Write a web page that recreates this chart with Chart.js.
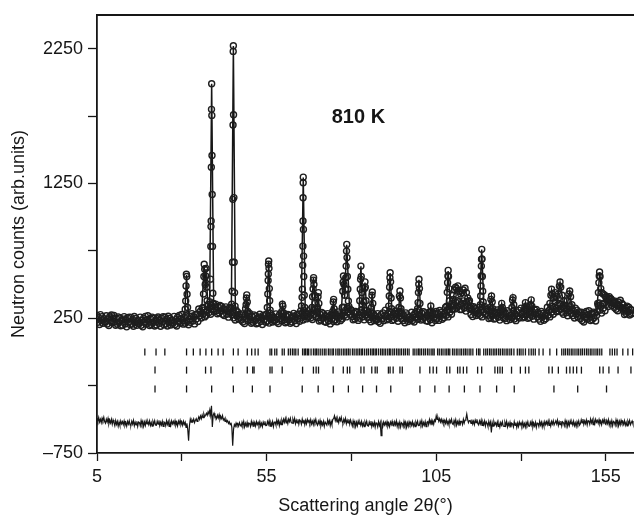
<!DOCTYPE html>
<html>
<head>
<meta charset="utf-8">
<script src="https://cdn.jsdelivr.net/npm/chart.js@4.4.1/dist/chart.umd.min.js"></script>
<style>
  html, body { margin: 0; padding: 0; overflow: hidden; background: #fff; }
  #wrap { width: 634px; height: 517px; }
  canvas { display: block; }
</style>
</head>
<body>
<div id="wrap"><canvas id="g_rietveld"></canvas></div>
<script>
// observed background, one value every 0.25 deg from 5 to 163
const scanStart = 5;
const scanStep = 0.25;
const obsBackground = [
  270, 220, 254, 204, 277, 232, 262, 212, 247, 224,
  221, 268, 208, 244, 196, 261, 231, 274, 216, 250,
  270, 222, 198, 248, 205, 260, 218, 252, 194, 236,
  198, 243, 262, 208, 238, 186, 254, 222, 258, 204,
  256, 206, 240, 190, 263, 218, 248, 198, 233, 210,
  211, 258, 198, 234, 186, 251, 221, 264, 206, 240,
  268, 220, 196, 246, 203, 258, 216, 250, 192, 234,
  200, 246, 259, 211, 236, 190, 251, 225, 262, 201,
  258, 208, 242, 192, 265, 220, 250, 200, 235, 212,
  217, 264, 204, 240, 192, 257, 227, 270, 212, 246,
  278, 230, 206, 256, 213, 268, 226, 260, 202, 244,
  220, 265, 284, 230, 260, 208, 276, 244, 280, 226,
  318, 268, 302, 252, 325, 280, 310, 260, 295, 272,
  305, 352, 292, 328, 280, 345, 315, 358, 300, 334,
  355, 307, 283, 333, 290, 345, 303, 337, 279, 321,
  270, 315, 334, 280, 310, 258, 326, 294, 330, 276,
  303, 253, 287, 237, 310, 265, 295, 245, 280, 257,
  235, 282, 222, 258, 210, 275, 245, 288, 230, 264,
  285, 237, 213, 263, 220, 275, 233, 267, 209, 251,
  215, 260, 279, 225, 255, 203, 271, 239, 275, 221,
  280, 230, 264, 214, 287, 242, 272, 222, 257, 234,
  235, 282, 222, 258, 210, 275, 245, 288, 230, 264,
  288, 240, 216, 266, 223, 278, 236, 270, 212, 254,
  222, 267, 286, 232, 262, 210, 278, 246, 282, 228,
  303, 253, 287, 237, 310, 265, 295, 245, 280, 257,
  265, 312, 252, 288, 240, 305, 275, 318, 260, 294,
  302, 254, 230, 280, 237, 292, 250, 284, 226, 268,
  220, 265, 284, 230, 260, 208, 276, 244, 280, 226,
  290, 240, 274, 224, 297, 252, 282, 232, 267, 244,
  285, 332, 272, 308, 260, 325, 295, 338, 280, 314,
  310, 262, 238, 288, 245, 300, 258, 292, 234, 276,
  250, 295, 314, 260, 290, 238, 306, 274, 310, 256,
  290, 240, 274, 224, 297, 252, 282, 232, 267, 244,
  237, 284, 224, 260, 212, 277, 247, 290, 232, 266,
  310, 262, 238, 288, 245, 300, 258, 292, 234, 276,
  240, 285, 304, 250, 280, 228, 296, 264, 300, 246,
  283, 233, 267, 217, 290, 245, 275, 225, 260, 237,
  247, 294, 234, 270, 222, 287, 257, 300, 242, 276,
  308, 260, 236, 286, 243, 298, 256, 290, 232, 274,
  228, 273, 292, 238, 268, 216, 284, 252, 288, 234,
  300, 250, 284, 234, 307, 262, 292, 242, 277, 254,
  285, 332, 272, 308, 260, 325, 295, 338, 280, 314,
  390, 342, 318, 368, 325, 380, 338, 372, 314, 356,
  315, 360, 379, 325, 355, 303, 371, 339, 375, 321,
  328, 278, 312, 262, 335, 290, 320, 270, 305, 282,
  285, 332, 272, 308, 260, 325, 295, 338, 280, 314,
  320, 272, 248, 298, 255, 310, 268, 302, 244, 286,
  248, 293, 312, 258, 288, 236, 304, 272, 308, 254,
  298, 248, 282, 232, 305, 260, 290, 240, 275, 252,
  257, 304, 244, 280, 232, 297, 267, 310, 252, 286,
  325, 277, 253, 303, 260, 315, 273, 307, 249, 291,
  255, 300, 319, 265, 295, 243, 311, 279, 315, 261,
  293, 243, 277, 227, 300, 255, 285, 235, 270, 247,
  285, 332, 272, 308, 260, 325, 295, 338, 280, 314,
  370, 322, 298, 348, 305, 360, 318, 352, 294, 336,
  280, 325, 344, 290, 320, 268, 336, 304, 340, 286,
  318, 268, 302, 252, 325, 280, 310, 260, 295, 272,
  247, 294, 234, 270, 222, 287, 257, 300, 242, 276,
  305, 257, 233, 283, 240, 295, 253, 287, 229, 271,
  300, 345, 364, 310, 340, 288, 356, 324, 360, 306,
  403, 353, 387, 337, 410, 365, 395, 345, 380, 357,
  330, 377, 317, 353, 305, 370, 340, 383, 325, 359,
  350, 302, 278, 328, 285, 340, 298, 332, 274, 316,
  282, 310, 290
];
// observed points on the Bragg peaks [2theta, counts]
const obsPeaks = [
  [31.0,317],[31.15,378],[31.25,490],[31.35,576],[31.45,560],[31.55,428],[31.7,330],
  [36.2,330],[36.4,430],[36.5,560],[36.6,650],[36.75,613],[36.9,500],[37.05,563],[37.15,620],[37.3,480],[37.45,380],[37.6,340],
  [38.3,371],[38.45,540],[38.55,783],[38.6,930],[38.65,971],[38.7,1370],[38.75,1800],[38.8,1990],[38.85,1755],[38.9,1457],[38.95,1168],[39.05,783],[39.15,435],[39.3,360],
  [44.7,354],[44.85,450],[44.95,665],[45.05,1132],[45.1,1684],[45.15,2230],[45.2,2272],[45.25,1760],[45.35,1145],[45.45,665],[45.55,440],[45.7,340],
  [48.8,320],[48.95,350],[49.05,400],[49.15,423],[49.3,370],[49.45,300],
  [55.2,330],[55.35,430],[55.45,530],[55.5,578],[55.55,650],[55.62,675],[55.7,620],[55.8,470],[55.9,380],[56.05,310],
  [59.5,300],[59.65,354],[59.8,340],[60.0,290],
  [65.3,341],[65.45,405],[65.55,465],[65.65,643],[65.7,785],[65.72,971],[65.75,1144],[65.78,1255],[65.8,1297],[65.85,909],[65.9,711],[65.95,560],[66.1,420],[66.25,330],
  [68.4,330],[68.55,410],[68.7,467],[68.8,533],[68.85,551],[68.95,500],[69.1,420],[69.3,360],
  [70.0,330],[70.15,410],[70.25,440],[70.4,360],
  [74.5,300],[74.65,370],[74.75,390],[74.9,320],
  [77.3,330],[77.45,450],[77.55,517],[77.65,563],[77.8,500],[78.0,420],[78.2,465],[78.35,551],[78.45,637],[78.55,748],[78.62,798],[78.7,700],[78.8,560],[78.95,465],[79.1,378],[79.3,320],
  [82.45,380],[82.6,465],[82.7,539],[82.8,637],[82.9,560],[83.05,440],[83.2,350],
  [83.7,370],[83.85,470],[84.0,520],[84.1,480],[84.3,380],
  [85.9,330],[86.05,420],[86.15,445],[86.3,360],
  [91.0,340],[91.15,415],[91.25,480],[91.35,551],[91.42,588],[91.55,520],[91.7,400],[91.85,320],
  [94.0,330],[94.15,415],[94.3,452],[94.45,400],[94.6,320],
  [99.5,320],[99.65,366],[99.75,440],[99.85,502],[99.92,539],[100.05,470],[100.2,360],
  [103.25,300],[103.4,341],[103.55,300],
  [108.1,340],[108.25,442],[108.35,514],[108.45,563],[108.52,605],[108.62,560],[108.75,470],[108.9,380],
  [109.6,360],[110.0,420],[110.4,460],[110.7,480],[111.0,470],[111.4,490],[111.8,450],[112.2,430],[112.6,440],[113.0,460],[113.5,472],[113.9,440],[114.3,400],[114.8,380],[115.3,340],
  [118.0,350],[118.1,415],[118.2,489],[118.25,563],[118.3,637],[118.35,687],[118.42,761],[118.5,690],[118.6,560],[118.7,450],[118.85,370],
  [120.9,330],[121.1,390],[121.3,415],[121.5,370],[121.7,320],
  [124.1,320],[124.3,360],[124.5,330],
  [127.3,330],[127.5,385],[127.65,403],[127.85,350],
  [131.1,330],[131.3,366],[131.5,340],[132.8,350],[133.0,386],[133.2,340],
  [138.5,360],[138.8,420],[139.0,465],[139.2,430],[139.6,400],[140.0,440],[140.4,410],[141.0,430],[141.3,490],[141.5,519],[141.7,480],[142.1,420],[142.6,380],[143.6,380],[144.1,430],[144.35,452],[144.6,410],[145.0,350],
  [152.6,360],[152.8,440],[152.95,514],[153.05,563],[153.15,593],[153.3,560],[153.5,470],[153.8,440],[154.2,430],[154.7,420],[155.2,410],[155.8,400],[156.4,390],[157.0,370],[157.6,360],[158.2,350],[158.8,340],[159.5,330],[160.2,320],[161.0,310]
];
// calculated profile [2theta, counts]
const calcProfile = [
  [5,240],[10,232],[15,230],[20,230],[25,232],[30,238],
  [30.8,240],[31.4,570],[32.0,245],
  [35.0,262],[35.8,280],[36.6,645],[36.9,460],[37.15,615],[37.7,330],
  [38.2,330],[38.8,1990],[39.4,325],
  [41.0,305],[43.0,300],
  [44.6,300],[45.2,2270],[45.8,285],
  [47.0,258],[48.6,255],[49.1,420],[49.6,252],
  [52.0,245],[55.0,250],[55.6,670],[56.2,255],
  [59.2,252],[59.7,350],[60.3,250],
  [63.0,250],[65.2,275],[65.8,1295],[66.4,285],
  [68.2,280],[68.8,550],[69.5,290],[69.8,285],[70.2,430],[70.7,262],
  [72.5,252],[74.2,250],[74.7,385],[75.2,255],
  [77.0,285],[77.6,560],[78.0,400],[78.6,795],[79.5,290],
  [81.0,270],[82.2,275],[82.8,635],[83.3,300],[84.0,515],[84.6,275],
  [85.6,258],[86.1,440],[86.7,255],
  [88.5,250],[90.8,265],[91.4,585],[92.0,270],
  [93.8,258],[94.3,448],[94.9,252],
  [97.0,255],[99.3,262],[99.9,535],[100.5,262],
  [102.0,260],[103.0,258],[103.4,340],[103.8,262],
  [106.0,275],[107.9,295],[108.5,600],[109.2,320],
  [110.7,470],[111.4,480],[112.2,420],[113.5,465],[114.5,380],[115.5,300],
  [117.7,295],[118.4,760],[119.1,300],
  [120.6,280],[121.3,410],[122.0,275],
  [123.8,268],[124.3,355],[124.9,268],
  [127.0,270],[127.6,400],[128.3,265],
  [130.8,275],[131.3,365],[132.0,285],[133.0,385],[133.6,275],
  [136.0,265],[138.2,300],[139.0,460],[139.6,390],[140.0,430],[140.6,380],[141.5,515],[142.5,360],[143.5,330],[144.35,450],[145.2,300],
  [148.0,265],[151.0,270],[152.3,300],[153.2,590],[153.8,430],[155.0,405],[157.0,365],[159.0,330],[161.0,300],[163.3,290]
];
// difference curve (shifted), same 0.25 deg grid as the background
const diffCounts = [
  -493, -515, -487, -520, -499, -525, -491, -510, -485, -517,
  -529, -499, -521, -493, -533, -507, -527, -500, -537, -505,
  -525, -548, -510, -538, -516, -552, -520, -545, -512, -534,
  -518, -540, -512, -545, -524, -550, -516, -535, -510, -542,
  -544, -514, -536, -508, -548, -522, -542, -515, -552, -520,
  -525, -548, -510, -538, -516, -552, -520, -545, -512, -534,
  -518, -540, -512, -545, -524, -550, -516, -535, -510, -542,
  -544, -514, -536, -508, -548, -522, -542, -515, -552, -520,
  -525, -548, -510, -538, -516, -552, -520, -545, -512, -534,
  -516, -538, -510, -543, -522, -548, -514, -533, -508, -540,
  -520, -545, -515, -538, -522, -560, -530, -575, -659, -548,
  -500, -522, -505, -518, -498, -525, -508, -495, -515, -502,
  -482, -500, -475, -495, -468, -488, -460, -480, -470, -455,
  -470, -445, -462, -430, -470, -400, -557, -470, -455, -480,
  -478, -495, -470, -490, -465, -500, -480, -495, -472, -505,
  -495, -515, -500, -520, -510, -530, -518, -540, -525, -560,
  -696, -575, -540, -552, -528, -545, -532, -550, -525, -543,
  -552, -522, -544, -516, -556, -530, -550, -523, -560, -528,
  -530, -553, -515, -543, -521, -557, -525, -550, -517, -539,
  -523, -545, -517, -550, -529, -555, -521, -540, -515, -547,
  -546, -516, -538, -510, -550, -524, -544, -517, -554, -522,
  -520, -543, -505, -533, -511, -547, -515, -540, -507, -529,
  -500, -522, -494, -527, -506, -532, -498, -517, -492, -524,
  -529, -499, -521, -493, -533, -507, -527, -500, -537, -505,
  -513, -536, -498, -526, -504, -540, -508, -533, -500, -522,
  -508, -530, -502, -535, -514, -540, -506, -525, -500, -532,
  -544, -514, -536, -508, -548, -522, -542, -515, -552, -520,
  -520, -543, -505, -533, -511, -547, -515, -540, -500, -495,
  -474, -510, -488, -520, -499, -525, -491, -510, -485, -517,
  -529, -499, -521, -493, -533, -507, -527, -500, -537, -505,
  -527, -550, -512, -540, -518, -554, -522, -547, -514, -536,
  -522, -544, -516, -549, -528, -554, -520, -539, -514, -546,
  -550, -520, -542, -514, -554, -528, -548, -521, -558, -526,
  -533, -556, -518, -546, -524, -622, -528, -553, -520, -542,
  -523, -545, -517, -550, -529, -555, -521, -540, -515, -547,
  -549, -519, -541, -513, -553, -527, -547, -520, -557, -525,
  -531, -554, -516, -544, -522, -558, -526, -551, -518, -540,
  -523, -545, -517, -550, -529, -555, -521, -540, -515, -547,
  -546, -516, -538, -510, -550, -524, -544, -517, -554, -522,
  -517, -540, -502, -530, -508, -544, -512, -537, -504, -515,
  -474, -500, -488, -515, -495, -520, -500, -525, -505, -530,
  -508, -530, -502, -535, -514, -540, -506, -525, -500, -532,
  -539, -509, -531, -503, -543, -517, -537, -510, -547, -515,
  -515, -538, -500, -528, -506, -495, -461, -500, -525, -510,
  -508, -530, -502, -535, -514, -540, -506, -525, -500, -532,
  -542, -512, -534, -506, -546, -520, -540, -513, -550, -518,
  -530, -553, -515, -543, -521, -597, -525, -550, -517, -539,
  -526, -548, -520, -553, -532, -558, -524, -543, -518, -550,
  -552, -522, -544, -516, -556, -530, -550, -523, -560, -528,
  -533, -556, -518, -546, -524, -560, -528, -553, -520, -542,
  -526, -548, -520, -553, -532, -558, -524, -543, -518, -550,
  -552, -522, -544, -516, -556, -530, -550, -523, -560, -528,
  -530, -553, -515, -543, -521, -557, -525, -550, -517, -539,
  -518, -540, -512, -545, -524, -550, -516, -535, -510, -542,
  -542, -512, -534, -506, -546, -520, -540, -513, -550, -518,
  -525, -548, -510, -538, -516, -552, -520, -545, -512, -534,
  -520, -542, -514, -547, -526, -552, -518, -537, -512, -544,
  -534, -504, -526, -498, -538, -512, -532, -505, -542, -510,
  -513, -536, -498, -526, -504, -540, -508, -533, -500, -522,
  -508, -530, -502, -535, -514, -540, -506, -525, -500, -532,
  -539, -509, -531, -503, -543, -517, -537, -510, -547, -515,
  -520, -543, -505, -533, -511, -547, -515, -540, -507, -529,
  -516, -538, -510, -543, -522, -548, -514, -533, -508, -540,
  -525, -512, -535
];
// Bragg reflection positions of the three phases (2theta)
const braggPhase1 = [19.1, 22.4, 25.0, 31.4, 33.4, 35.4, 37.1, 38.8, 40.7, 42.2, 45.2, 46.6, 49.3, 50.6, 51.6, 52.5,
  56.0, 56.5, 57.4, 58.0, 59.6, 60.2, 61.4, 62.0, 62.6, 63.1, 63.6, 64.3, 65.6, 66.1, 66.5, 67.0, 67.4, 68.1, 68.8,
  69.3, 69.7, 70.2, 70.8, 71.4, 72.0, 72.5, 73.2, 73.7, 74.3, 74.7, 75.4, 76.0, 76.4, 77.0, 77.6, 78.1, 78.6, 79.1,
  79.6, 80.3, 80.8, 81.4, 81.9, 82.4, 82.9, 83.3, 83.9, 84.5, 85.0, 85.6, 86.1, 86.5, 87.0, 87.4, 88.0, 88.6, 89.1,
  89.6, 90.1, 90.7, 91.2, 91.6, 92.2, 92.7, 93.3, 93.8, 94.3, 94.8, 95.4, 95.9, 96.5, 97.0, 98.2, 98.7, 99.3, 99.8,
  100.2, 100.7, 101.3, 101.8, 102.4, 102.9, 103.5, 104.0, 104.4, 105.4, 105.9, 106.5, 107.0, 107.6, 108.1, 108.6,
  109.0, 109.8, 110.3, 110.9, 111.4, 112.0, 112.5, 113.1, 113.6, 114.1, 114.7, 115.2, 115.8, 116.9, 117.5, 117.9,
  119.0, 119.6, 120.1, 120.7, 121.2, 121.8, 122.3, 122.8, 123.4, 123.9, 124.5, 125.0, 125.6, 126.1, 126.7, 127.2,
  127.9, 128.9, 129.5, 130.0, 130.6, 131.3, 132.3, 133.0, 133.6, 134.2, 135.3, 136.5, 138.5, 140.5, 142.0, 142.6,
  143.1, 143.7, 144.2, 144.8, 145.3, 145.9, 146.5, 147.0, 147.6, 148.1, 148.7, 149.3, 149.8, 150.4, 150.9, 151.5,
  152.1, 152.6, 153.2, 153.8, 156.2, 156.9, 157.6, 158.3, 160.0, 161.5, 162.9];
const braggPhase2 = [22.1, 31.4, 37.0, 38.6, 45.0, 49.3, 50.9, 51.3, 56.0, 56.6, 59.6, 65.6, 68.8, 69.6, 70.3, 74.6,
  77.6, 78.8, 79.5, 82.8, 83.7, 86.0, 87.0, 87.6, 90.9, 91.4, 92.3, 94.3, 95.0, 100.2, 103.1, 104.1, 105.1, 108.1,
  109.0, 111.3, 112.0, 113.0, 114.0, 117.2, 118.4, 122.3, 123.1, 123.8, 124.5, 127.2, 129.8, 131.3, 132.3, 138.2,
  139.2, 141.0, 143.4, 144.4, 145.4, 146.4, 147.8, 153.2, 154.2, 155.9, 158.6, 162.4];
const braggPhase3 = [22.1, 31.4, 38.8, 45.2, 50.8, 56.0, 65.5, 70.2, 74.7, 79.1, 83.3, 87.4, 91.6, 100.2, 104.6,
  108.8, 113.3, 117.9, 122.8, 128.0, 139.7, 146.7, 155.2];
const braggRowLevels = [0, -135, -275];

const xTickValues = [5, 30, 55, 80, 105, 130, 155];
const xTickLabels = [5, 55, 105, 155];
const yTickValues = [-750, -250, 250, 750, 1250, 1750, 2250];
const yTickLabels = [-750, 250, 1250, 2250];
const tempLabel = "810 K";
const tempLabelAt = { x: 74.2, y: 1740 };

const fontFamily = "'Liberation Sans', Arial, Helvetica, sans-serif";
const ink = "#161616";

function rietveld() {
    const ctx = document.getElementById("g_rietveld").getContext("2d");

    let observed = obsBackground.map(function(v, i) {
        return { x: scanStart + i * scanStep, y: v };
    });
    obsPeaks.forEach(function(p) {
        observed.push({ x: p[0], y: p[1] });
    });
    let calculated = calcProfile.map(function(p) {
        return { x: p[0], y: p[1] };
    });
    let difference = diffCounts.map(function(v, i) {
        return { x: scanStart + i * scanStep, y: v };
    });
    let braggSets = [braggPhase1, braggPhase2, braggPhase3].map(function(list, k) {
        return {
            type: "scatter",
            data: list.map(function(t) { return { x: t, y: braggRowLevels[k] }; }),
            pointStyle: "line",
            rotation: 90,
            pointRadius: 3.5,
            pointBorderWidth: 1.3,
            borderColor: ink,
            showLine: false,
            order: 3
        };
    });

    // frame top line and the temperature text
    const extras = {
        id: "extras",
        afterDatasetsDraw(chart) {
            const c = chart.ctx;
            const area = chart.chartArea;
            c.save();
            c.strokeStyle = ink;
            c.lineWidth = 1.8;
            c.beginPath();
            c.moveTo(area.left, area.top);
            c.lineTo(area.right, area.top);
            c.stroke();
            c.fillStyle = ink;
            c.font = "bold 20px " + fontFamily;
            c.textAlign = "left";
            c.textBaseline = "middle";
            c.fillText(tempLabel, chart.scales.x.getPixelForValue(tempLabelAt.x), chart.scales.y.getPixelForValue(tempLabelAt.y));
            c.restore();
        }
    };

    const config = {
        type: "scatter",
        data: {
            datasets: [
                {
                    label: "Difference",
                    data: difference,
                    showLine: true,
                    pointRadius: 0,
                    borderColor: ink,
                    borderWidth: 1.2,
                    order: 4
                },
                ...braggSets,
                {
                    label: "Calculated",
                    data: calculated,
                    showLine: true,
                    pointRadius: 0,
                    borderColor: ink,
                    borderWidth: 1.5,
                    order: 2
                },
                {
                    label: "Observed",
                    data: observed,
                    showLine: false,
                    pointRadius: 3,
                    pointBorderWidth: 1.4,
                    borderColor: "#1e1e1e",
                    backgroundColor: "rgba(0,0,0,0)",
                    order: 1
                }
            ]
        },
        options: {
            animation: false,
            responsive: true,
            maintainAspectRatio: false,
            layout: { autoPadding: false, padding: { top: 15, right: 0, left: 0, bottom: 0 } },
            plugins: {
                legend: { display: false },
                tooltip: { enabled: false }
            },
            scales: {
                x: {
                    type: "linear",
                    min: 5,
                    max: 163.3,
                    afterBuildTicks: function(s) { s.ticks = xTickValues.map(function(v) { return { value: v }; }); },
                    afterFit: function(s) { s.height = 64; s.paddingLeft = 0; s.paddingRight = 0; },
                    ticks: {
                        autoSkip: false,
                        maxRotation: 0,
                        padding: 5,
                        color: ink,
                        font: { size: 18, family: fontFamily },
                        callback: function(v) { return xTickLabels.includes(v) ? String(v) : ""; }
                    },
                    grid: { drawOnChartArea: false, tickLength: 8, tickColor: ink, tickWidth: 1.3 },
                    border: { color: ink, width: 1.8 },
                    title: {
                        display: true,
                        text: "Scattering angle 2θ(°)",
                        color: ink,
                        font: { size: 18, family: fontFamily },
                        padding: { top: 0, bottom: 0 }
                    }
                },
                y: {
                    type: "linear",
                    min: -750,
                    max: 2500,
                    afterBuildTicks: function(s) { s.ticks = yTickValues.map(function(v) { return { value: v }; }); },
                    afterFit: function(s) { s.width = 97; s.paddingTop = 0; s.paddingBottom = 0; },
                    ticks: {
                        autoSkip: false,
                        padding: 5,
                        color: ink,
                        font: { size: 18, family: fontFamily },
                        callback: function(v) { return yTickLabels.includes(v) ? String(v).replace("-", "\u2013") : ""; }
                    },
                    grid: { drawOnChartArea: false, tickLength: 9, tickColor: ink, tickWidth: 1.3 },
                    border: { color: ink, width: 1.8 },
                    title: {
                        display: true,
                        text: "Neutron counts (arb.units)",
                        color: ink,
                        font: { size: 18, family: fontFamily },
                        padding: { top: 8, bottom: 0 }
                    }
                }
            }
        },
        plugins: [extras]
    };
    new Chart(ctx, config);
}

window.addEventListener("load", () => {
    rietveld();
});
</script>
</body>
</html>
